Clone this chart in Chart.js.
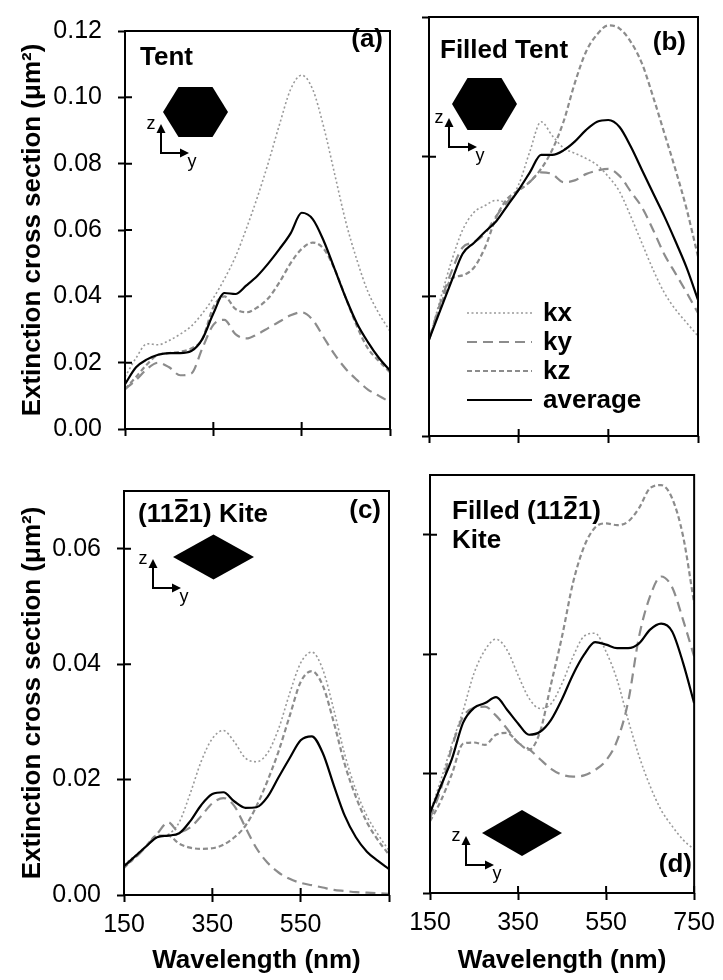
<!DOCTYPE html>
<html>
<head>
<meta charset="utf-8">
<script src="https://cdn.jsdelivr.net/npm/chart.js@4.4.1/dist/chart.umd.min.js"></script>
<style>
  html, body { margin: 0; padding: 0; background: #fff; }
  #fig { position: relative; width: 723px; height: 980px; }
  #fig canvas { position: absolute; }
</style>
</head>
<body>
<div id="fig">
  <canvas id="panelA" width="400" height="460" style="left:0;top:0"></canvas>
  <canvas id="panelB" width="323" height="460" style="left:400px;top:0"></canvas>
  <canvas id="panelC" width="400" height="520" style="left:0;top:460px"></canvas>
  <canvas id="panelD" width="323" height="520" style="left:400px;top:460px"></canvas>
</div>
<script>
'use strict';

/* ── Data (25 nm steps) ── */
const wavelength = [150, 175, 200, 225, 250, 275, 300, 325, 350, 375, 400, 425, 450,
                    475, 500, 525, 550, 575, 600, 625, 650, 675, 700, 725, 750];

const xTicks        = [150, 350, 550, 750];
const xLabelsKite   = ['150', '350', '550', ''];
const xLabelsFilled = ['150', '350', '550', '750'];
const yTicksTent    = [0, 0.02, 0.04, 0.06, 0.08, 0.10, 0.12];
const yTicksFTent   = [0, 0.04, 0.08, 0.12];
const yTicksKite    = [0, 0.02, 0.04, 0.06];

// (a) Tent
const tentKx  = [0.0157, 0.0214, 0.0257, 0.0254, 0.0267, 0.0286, 0.0310, 0.0348, 0.0395, 0.0452, 0.0519, 0.0605, 0.0700,
                 0.0805, 0.0919, 0.1024, 0.1067, 0.1024, 0.0910, 0.0767, 0.0624, 0.0510, 0.0414, 0.0348, 0.0295];
const tentKy  = [0.0120, 0.0148, 0.0181, 0.0200, 0.0186, 0.0162, 0.0167, 0.0243, 0.0314, 0.0329, 0.0286, 0.0273, 0.0286,
                 0.0305, 0.0324, 0.0343, 0.0352, 0.0329, 0.0276, 0.0224, 0.0181, 0.0148, 0.0119, 0.0100, 0.0081];
const tentKz  = [0.0120, 0.0157, 0.0195, 0.0224, 0.0229, 0.0233, 0.0243, 0.0271, 0.0367, 0.0400, 0.0362, 0.0352, 0.0367,
                 0.0395, 0.0443, 0.0500, 0.0543, 0.0562, 0.0543, 0.0481, 0.0395, 0.0310, 0.0243, 0.0205, 0.0171];
const tentAvg = [0.0135, 0.0186, 0.0210, 0.0224, 0.0229, 0.0229, 0.0235, 0.0271, 0.0348, 0.0410, 0.0407, 0.0433, 0.0462,
                 0.0500, 0.0543, 0.0590, 0.0652, 0.0633, 0.0567, 0.0481, 0.0395, 0.0319, 0.0262, 0.0214, 0.0176];

// (b) Filled Tent
const fTentKx  = [0.0276, 0.0390, 0.0500, 0.0590, 0.0640, 0.0660, 0.0675, 0.0670, 0.0720, 0.0815, 0.0900, 0.0860, 0.0825,
                  0.0810, 0.0795, 0.0776, 0.0743, 0.0700, 0.0629, 0.0552, 0.0476, 0.0410, 0.0362, 0.0324, 0.0286];
const fTentKy  = [0.0276, 0.0380, 0.0470, 0.0540, 0.0555, 0.0580, 0.0630, 0.0670, 0.0705, 0.0728, 0.0755, 0.0750, 0.0727,
                  0.0732, 0.0750, 0.0760, 0.0765, 0.0745, 0.0700, 0.0655, 0.0590, 0.0520, 0.0465, 0.0410, 0.0352];
const fTentKz  = [0.0276, 0.0370, 0.0450, 0.0460, 0.0482, 0.0540, 0.0627, 0.0680, 0.0703, 0.0728, 0.0765, 0.0820, 0.0900,
                  0.1010, 0.1100, 0.1150, 0.1176, 0.1167, 0.1129, 0.1067, 0.0971, 0.0867, 0.0762, 0.0648, 0.0514];
const fTentAvg = [0.0276, 0.0360, 0.0443, 0.0522, 0.0553, 0.0585, 0.0615, 0.0660, 0.0705, 0.0755, 0.0805, 0.0805, 0.0818,
                  0.0843, 0.0876, 0.0900, 0.0905, 0.0885, 0.0829, 0.0762, 0.0695, 0.0629, 0.0557, 0.0481, 0.0390];

// (c) (11-21) Kite
const kiteKx  = [0.0053, 0.0068, 0.0085, 0.0100, 0.0105, 0.0126, 0.0176, 0.0232, 0.0271, 0.0285, 0.0265, 0.0237, 0.0231,
                 0.0246, 0.0288, 0.0349, 0.0402, 0.0421, 0.0391, 0.0321, 0.0243, 0.0182, 0.0137, 0.0105, 0.0077];
const kiteKy  = [0.0050, 0.0064, 0.0084, 0.0106, 0.0126, 0.0109, 0.0117, 0.0137, 0.0159, 0.0168, 0.0154, 0.0117, 0.0081,
                 0.0056, 0.0039, 0.0028, 0.0021, 0.0017, 0.0013, 0.0009, 0.0007, 0.0005, 0.0004, 0.0003, 0.0002];
const kiteKz  = [0.0047, 0.0065, 0.0085, 0.0103, 0.0103, 0.0089, 0.0082, 0.0080, 0.0081, 0.0087, 0.0100, 0.0120, 0.0154,
                 0.0198, 0.0249, 0.0310, 0.0369, 0.0388, 0.0363, 0.0299, 0.0226, 0.0170, 0.0126, 0.0095, 0.0070];
const kiteAvg = [0.0050, 0.0067, 0.0084, 0.0100, 0.0103, 0.0107, 0.0128, 0.0156, 0.0175, 0.0178, 0.0162, 0.0151, 0.0152,
                 0.0170, 0.0204, 0.0237, 0.0268, 0.0275, 0.0246, 0.0190, 0.0137, 0.0100, 0.0075, 0.0059, 0.0045];

// (d) Filled (11-21) Kite
const fKiteKx  = [0.0135, 0.0190, 0.0250, 0.0305, 0.0368, 0.0407, 0.0425, 0.0407, 0.0365, 0.0326, 0.0309, 0.0317, 0.0351,
                  0.0396, 0.0430, 0.0435, 0.0404, 0.0357, 0.0290, 0.0229, 0.0179, 0.0139, 0.0112, 0.0089, 0.0073];
const fKiteKy  = [0.0125, 0.0175, 0.0245, 0.0295, 0.0310, 0.0312, 0.0297, 0.0275, 0.0252, 0.0241, 0.0224, 0.0208, 0.0198,
                  0.0195, 0.0197, 0.0206, 0.0222, 0.0255, 0.0320, 0.0430, 0.0497, 0.0530, 0.0512, 0.0457, 0.0396];
const fKiteKz  = [0.0120, 0.0155, 0.0200, 0.0250, 0.0252, 0.0248, 0.0265, 0.0268, 0.0252, 0.0240, 0.0270, 0.0350, 0.0430,
                  0.0520, 0.0580, 0.0612, 0.0619, 0.0616, 0.0622, 0.0645, 0.0678, 0.0683, 0.0661, 0.0597, 0.0485];
const fKiteAvg = [0.0134, 0.0180, 0.0225, 0.0285, 0.0310, 0.0318, 0.0328, 0.0307, 0.0284, 0.0265, 0.0270, 0.0290, 0.0325,
                  0.0366, 0.0399, 0.0420, 0.0416, 0.0410, 0.0410, 0.0418, 0.0441, 0.0451, 0.0438, 0.0385, 0.0318];

/* ── Shared styles ── */
const FONT = "'Liberation Sans', Arial, sans-serif";
Chart.defaults.font.family = FONT;
Chart.defaults.color = '#000';

const GREY = '#8c8c8c';
const lineStyles = {
  kx:      { dash: [2, 2.5], color: '#999999', width: 1.6, order: 3 },
  ky:      { dash: [10, 6],  color: GREY,      width: 2.2, order: 2 },
  kz:      { dash: [5, 3],   color: GREY,      width: 2.2, order: 1 },
  average: { dash: [],       color: '#000000', width: 2.2, order: 0 },
};

/* ── Frame + inward half of the crossing tick marks ── */
const frameTicks = {
  id: 'frameTicks',
  afterDatasetsDraw(chart) {
    const { ctx, chartArea: a, scales: { x, y } } = chart;
    ctx.save();
    ctx.strokeStyle = '#000';
    ctx.lineWidth = 2;
    ctx.beginPath();
    x.ticks.forEach(t => {
      const px = x.getPixelForValue(t.value);
      ctx.moveTo(px, a.bottom); ctx.lineTo(px, a.bottom - 7);
    });
    y.ticks.forEach(t => {
      const py = y.getPixelForValue(t.value);
      ctx.moveTo(a.left, py); ctx.lineTo(a.left + 7, py);
    });
    ctx.stroke();
    ctx.strokeRect(a.left, a.top, a.width, a.height);
    ctx.restore();
  }
};

/* ── Panel annotations: titles, tag, particle sketch, z/y axes, legend ── */
function drawRichLine(ctx, parts, x, y) {
  parts.forEach(p => {
    const w = ctx.measureText(p.t).width;
    ctx.fillText(p.t, x, y);
    if (p.bar) ctx.fillRect(x + 1, y - 23, w - 2, 2.5);
    x += w;
  });
}

function drawArrow(ctx, x0, y0, x1, y1) {
  const ang = Math.atan2(y1 - y0, x1 - x0);
  ctx.beginPath();
  ctx.moveTo(x0, y0);
  ctx.lineTo(x1 - 6 * Math.cos(ang), y1 - 6 * Math.sin(ang));
  ctx.stroke();
  ctx.beginPath();
  ctx.moveTo(x1, y1);
  ctx.lineTo(x1 - 9 * Math.cos(ang) + 4.5 * Math.sin(ang), y1 - 9 * Math.sin(ang) - 4.5 * Math.cos(ang));
  ctx.lineTo(x1 - 9 * Math.cos(ang) - 4.5 * Math.sin(ang), y1 - 9 * Math.sin(ang) + 4.5 * Math.cos(ang));
  ctx.closePath();
  ctx.fill();
}

function makeDecor(d) {
  return {
    id: 'decor',
    afterDraw(chart) {
      const ctx = chart.ctx;
      ctx.save();
      ctx.fillStyle = '#000';
      ctx.strokeStyle = '#000';
      ctx.font = 'bold 26px ' + FONT;
      ctx.textAlign = 'left';
      ctx.textBaseline = 'alphabetic';
      d.lines.forEach(l => drawRichLine(ctx, l.parts, l.x, l.y));

      ctx.textAlign = 'right';
      ctx.fillText(d.tag.text, d.tag.x, d.tag.y);

      // particle cross-section
      const s = d.shape;
      ctx.beginPath();
      if (s.kind === 'hex') {
        ctx.moveTo(s.cx - s.hw, s.cy);
        ctx.lineTo(s.cx - s.tw, s.cy - s.hh);
        ctx.lineTo(s.cx + s.tw, s.cy - s.hh);
        ctx.lineTo(s.cx + s.hw, s.cy);
        ctx.lineTo(s.cx + s.tw, s.cy + s.hh);
        ctx.lineTo(s.cx - s.tw, s.cy + s.hh);
      } else {
        ctx.moveTo(s.cx - s.hw, s.cy);
        ctx.lineTo(s.cx, s.cy - s.hh);
        ctx.lineTo(s.cx + s.hw, s.cy);
        ctx.lineTo(s.cx, s.cy + s.hh);
      }
      ctx.closePath();
      ctx.fill();

      // z / y orientation arrows
      const ax = d.axes;
      ctx.lineWidth = 2;
      drawArrow(ctx, ax.x, ax.y, ax.x, ax.y - 29);
      drawArrow(ctx, ax.x - 1, ax.y, ax.x + 28, ax.y);
      ctx.font = '18px ' + FONT;
      ctx.textAlign = 'center';
      ctx.textBaseline = 'middle';
      ctx.fillText('z', ax.x - 10, ax.y - 29);
      ctx.fillText('y', ax.x + 31, ax.y + 9);

      // legend, styled from the datasets themselves
      if (d.legend) {
        const L = d.legend;
        ctx.font = 'bold 26px ' + FONT;
        ctx.textAlign = 'left';
        chart.data.datasets.forEach((ds, i) => {
          const yy = L.y + i * L.step;
          ctx.beginPath();
          ctx.setLineDash(ds.borderDash);
          ctx.strokeStyle = ds.borderColor;
          ctx.lineWidth = ds.borderWidth;
          ctx.moveTo(L.x, yy);
          ctx.lineTo(L.x + 65, yy);
          ctx.stroke();
          ctx.setLineDash([]);
          ctx.fillText(ds.label, L.x + 76, yy + 1);
        });
      }
      ctx.restore();
    }
  };
}

/* ── Axes ── */
function xAxis(labels, height) {
  const show = !!labels;
  return {
    type: 'linear', min: 150, max: 750,
    afterBuildTicks: s => { s.ticks = xTicks.map(v => ({ value: v })); },
    afterFit: s => { s.height = height; },
    border: { display: false },
    grid: { drawOnChartArea: false, drawTicks: true, tickLength: 7, tickWidth: 2, tickColor: '#000' },
    ticks: {
      display: show, autoSkip: false, maxRotation: 0, padding: 8,
      font: { size: 25 }, color: '#000',
      callback: (v, i) => (labels ? labels[i] : '')
    },
    title: {
      display: show, text: 'Wavelength (nm)', color: '#000',
      font: { size: 26, weight: 'bold' }, padding: { top: 0, bottom: 4 }
    }
  };
}

function yAxis(max, ticks, show, width) {
  return {
    type: 'linear', min: 0, max,
    afterBuildTicks: s => { s.ticks = ticks.map(v => ({ value: v })); },
    afterFit: s => { s.width = width; },
    border: { display: false },
    grid: { drawOnChartArea: false, drawTicks: true, tickLength: 7, tickWidth: 2, tickColor: '#000' },
    ticks: {
      display: show, autoSkip: false, padding: 16,
      font: { size: 25 }, color: '#000',
      callback: v => v.toFixed(2)
    },
    title: {
      display: show, text: 'Extinction cross section (μm²)', color: '#000',
      font: { size: 26, weight: 'bold' }, padding: { top: 17, bottom: 0 }
    }
  };
}

/* ── Panel builder ── */
function makePanel(id, cfg) {
  const series = [['kx', cfg.kx], ['ky', cfg.ky], ['kz', cfg.kz], ['average', cfg.avg]];
  new Chart(document.getElementById(id), {
    type: 'line',
    data: {
      datasets: series.map(([label, vals]) => {
        const st = lineStyles[label];
        return {
          label,
          data: wavelength.map((x, i) => ({ x, y: vals[i] })),
          borderColor: st.color,
          borderWidth: st.width,
          borderDash: st.dash,
          order: st.order,
          pointRadius: 0,
          fill: false,
          cubicInterpolationMode: 'monotone'
        };
      })
    },
    options: {
      responsive: false,
      animation: false,
      events: [],
      layout: { padding: cfg.padding },
      plugins: { legend: { display: false }, tooltip: { enabled: false } },
      scales: { x: cfg.x, y: cfg.y }
    },
    plugins: [frameTicks, makeDecor(cfg.decor)]
  });
}

/* ── (a) Tent ── */
makePanel('panelA', {
  kx: tentKx, ky: tentKy, kz: tentKz, avg: tentAvg,
  padding: { top: 21, right: 10, left: 0, bottom: 0 },
  x: xAxis(null, 21),
  y: yAxis(0.12, yTicksTent, true, 125),
  decor: {
    lines: [{ x: 140, y: 65, parts: [{ t: 'Tent' }] }],
    tag: { text: '(a)', x: 383, y: 47 },
    shape: { kind: 'hex', cx: 195.5, cy: 112, hw: 32.5, tw: 17, hh: 25 },
    axes: { x: 161, y: 153 }
  }
});

/* ── (b) Filled Tent ── */
makePanel('panelB', {
  kx: fTentKx, ky: fTentKy, kz: fTentKz, avg: fTentAvg,
  padding: { top: 17, right: 25, left: 0, bottom: 0 },
  x: xAxis(null, 24),
  y: yAxis(0.12, yTicksFTent, false, 29),
  decor: {
    lines: [{ x: 40, y: 58, parts: [{ t: 'Filled Tent' }] }],
    tag: { text: '(b)', x: 286, y: 50 },
    shape: { kind: 'hex', cx: 84.5, cy: 104, hw: 32.5, tw: 17, hh: 26 },
    axes: { x: 49, y: 147 },
    legend: { x: 67, y: 313, step: 29 }
  }
});

/* ── (c) (11-21) Kite ── */
makePanel('panelC', {
  kx: kiteKx, ky: kiteKy, kz: kiteKz, avg: kiteAvg,
  padding: { top: 16, right: 11, left: 0, bottom: 0 },
  x: xAxis(xLabelsKite, 85),
  y: yAxis(0.07, yTicksKite, true, 124),
  decor: {
    lines: [{ x: 138, y: 62, parts: [{ t: '(11' }, { t: '2', bar: true }, { t: '1) Kite' }] }],
    tag: { text: '(c)', x: 381, y: 58 },
    shape: { kind: 'diamond', cx: 213.5, cy: 97, hw: 40.5, hh: 22.5 },
    axes: { x: 153, y: 128 }
  }
});

/* ── (d) Filled (11-21) Kite ── */
makePanel('panelD', {
  kx: fKiteKx, ky: fKiteKy, kz: fKiteKz, avg: fKiteAvg,
  padding: { top: 15, right: 25, left: 0, bottom: 0 },
  x: xAxis(xLabelsFilled, 87),
  y: yAxis(0.07, yTicksKite, false, 30),
  decor: {
    lines: [
      { x: 52, y: 59, parts: [{ t: 'Filled (11' }, { t: '2', bar: true }, { t: '1)' }] },
      { x: 52, y: 88, parts: [{ t: 'Kite' }] }
    ],
    tag: { text: '(d)', x: 292, y: 412 },
    shape: { kind: 'diamond', cx: 122, cy: 373, hw: 40, hh: 23 },
    axes: { x: 66, y: 405 }
  }
});
</script>
</body>
</html>
